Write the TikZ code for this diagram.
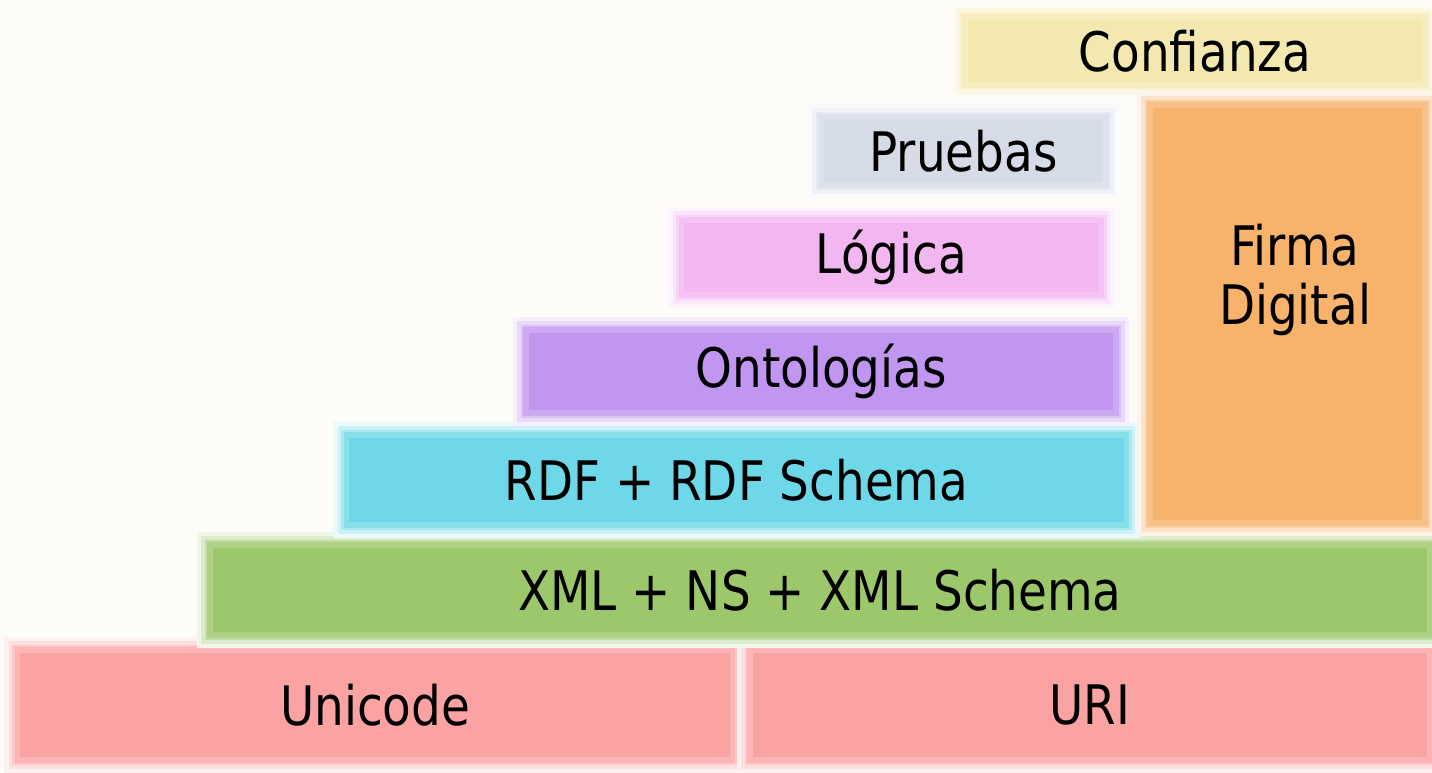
\documentclass[tikz,border=0pt]{standalone}
\usepackage{fontspec}
\setmainfont{DejaVu Sans}[FakeStretch=0.86]
\definecolor{bgwhite}{RGB}{253,252,249}
\definecolor{confyellow}{RGB}{243,233,176}
\definecolor{pruebgrey}{RGB}{214,219,232}
\definecolor{logpink}{RGB}{242,182,240}
\definecolor{ontopurple}{RGB}{192,150,240}
\definecolor{rdfcyan}{RGB}{110,216,232}
\definecolor{xmlgreen}{RGB}{156,199,106}
\definecolor{basered}{RGB}{251,163,163}
\definecolor{firmaorange}{RGB}{247,178,107}
\usetikzlibrary{positioning}

\begin{document}
\begin{tikzpicture}[
  layer/.style={rectangle, fill=#1, draw=#1!82, line width=3pt,
    preaction={draw=#1!15, line width=15pt},
    preaction={draw=#1!35, line width=10pt},
    preaction={draw=#1!60, line width=6pt},
    inner sep=0pt, font=\fontsize{31}{36}\selectfont, text=black},
  lbl/.style={font=\fontsize{31}{36}\selectfont, align=center, text=black, inner sep=0pt}
]
  \fill[bgwhite] (0,0) rectangle (28.64,-15.44);
  \useasboundingbox (0,0) rectangle (28.64,-15.44);

  % base
  \node[layer=basered, minimum width=14.3cm, minimum height=2.2cm] (unicode) at (7.5,-14.1) {Unicode};
  \node[layer=basered, minimum width=13.6cm, minimum height=2.2cm] (uri) at (21.8,-14.1) {URI};
  \node[layer=xmlgreen, minimum width=24.4cm, minimum height=1.8cm] (xml) at (16.4,-11.8) {XML + NS + XML Schema};
  \node[layer=rdfcyan, minimum width=15.6cm, minimum height=1.8cm] (rdf) at (14.73,-9.6) {RDF + RDF Schema};
  \node[layer=ontopurple, minimum width=11.8cm, minimum height=1.66cm] (onto) at (16.42,-7.43) {Ontologías};
  \node[layer=logpink, minimum width=8.4cm, minimum height=1.5cm] (logica) at (17.83,-5.15) {Lógica};
  \node[layer=pruebgrey, minimum width=5.7cm, minimum height=1.36cm] (pruebas) at (19.27,-3.02) {Pruebas};
  \node[layer=confyellow, minimum width=9.2cm, minimum height=1.36cm] (confianza) at (23.9,-1.02) {Confianza};

  % side column
  \node[layer=firmaorange, minimum width=5.5cm, minimum height=8.36cm] (firma) at (25.75,-6.28) {};
  \node[lbl] (firmatxt) at (25.9,-5.6) {Firma\\[-2pt]Digital};
\end{tikzpicture}
\end{document}
